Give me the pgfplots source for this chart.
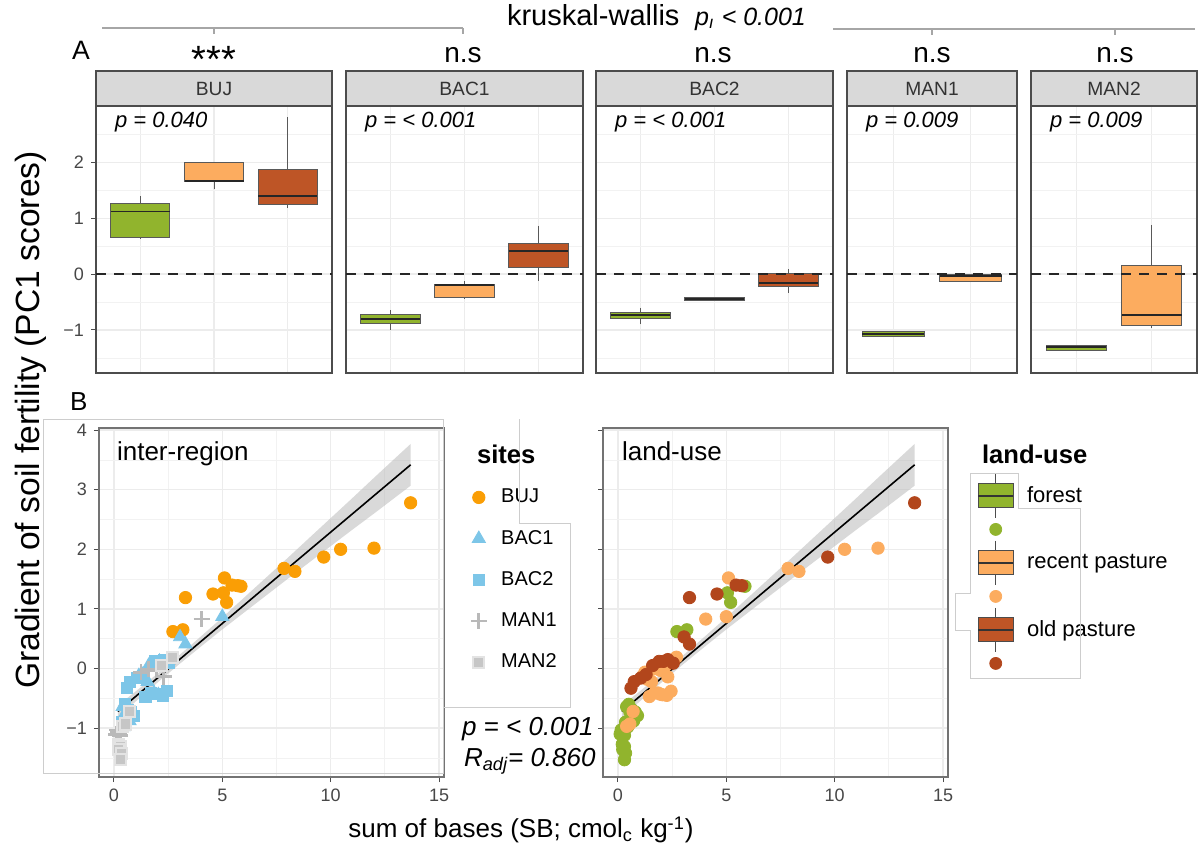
\documentclass[border=0pt]{standalone}
\usepackage{fontspec}
\setmainfont{Liberation Sans}
\usepackage{pgfplots}
\pgfplotsset{compat=1.18}
\usepgfplotslibrary{statistics}

\newcommand{\fs}[1]{\fontsize{#1}{#1}\selectfont}

\definecolor{forestc}{RGB}{145,180,45}
\definecolor{recentc}{RGB}{252,172,95}
\definecolor{oldc}{RGB}{190,85,38}
\definecolor{oldpt}{RGB}{178,70,28}
\definecolor{bujc}{RGB}{250,158,5}
\definecolor{bacc}{RGB}{125,198,232}
\definecolor{manc}{RGB}{185,185,185}
\definecolor{gridc}{RGB}{236,236,236}
\definecolor{stripc}{RGB}{217,217,217}
\definecolor{framec}{RGB}{205,205,205}

\pgfplotsset{
 panelbase/.style={scale only axis, anchor=north west,
   grid=both, major grid style={draw=gridc, line width=0.7pt},
   minor grid style={draw=gridc!70, line width=0.4pt},
   axis line style={black!70, line width=0.6pt},
   tick style={black!70, line width=0.5pt}, tick align=outside,
   minor tick length=0pt,
   tick label style={font=\fs{9}, text=black!72}},
 toppanel/.style={panelbase, height=133.5pt, ymin=-1.77, ymax=3.01, xmin=0.4,
   xtick={1,2,3}, xticklabels={}, ytick={-1,0,1,2},
   minor ytick={-1.5,-0.5,0.5,1.5,2.5},
   major tick length=0pt, yticklabels={}},
 bottompanel/.style={panelbase, width=172.5pt, height=174.5pt,
   xmin=-0.69, xmax=15.23, ymin=-1.82, ymax=4.035,
   xtick={0,5,10,15}, xticklabels={0,5,10,15}, ytick={-1,0,1,2,3,4},
   minor xtick={2.5,7.5,12.5}, minor ytick={-1.5,-0.5,0.5,1.5,2.5,3.5},
   major tick length=2.5pt, tick pos=left, axis line style={black!55}},
 ptkey/.style={legend image code/.code={\path (0pt,0pt) (12pt,0pt); \draw[##1] plot coordinates {(6pt,0pt)};}},
 lukey/.style={legend image code/.code={
   \draw[black!70, line width=0.5pt] (8.75pt,11pt) -- (8.75pt,-11pt);
   \draw[fill=#1, draw=black!70, line width=0.5pt] (0pt,-6pt) rectangle (17.5pt,6pt);
   \draw[black!80, line width=0.8pt] (0pt,0pt) -- (17.5pt,0pt);}},
 ludot/.style={legend image code/.code={\path (0pt,0pt) (17.5pt,0pt); \fill[#1] (8.75pt,0pt) circle (3pt);}},
}

% draw position, lower whisker, lower quartile, median, upper quartile, upper whisker, colour
\newcommand{\bx}[7]{\addplot[boxplot prepared={draw position=#1, lower whisker=#2,
   lower quartile=#3, median=#4, upper quartile=#5, upper whisker=#6,
   box extend=0.8, whisker extend=0, draw direction=y,
   every median/.style={draw=black!85, line width=0.9pt}},
   fill=#7, draw=black!65, line width=0.5pt, solid] coordinates {};}
\newcommand{\zeroline}[1]{\addplot[black!85, line width=1pt, dash pattern=on 5pt off 4pt] coordinates {(0.4,0) (#1,0)};}

\begin{document}
\begin{tikzpicture}

% ---------------- Panel A ----------------
\begin{axis}[toppanel, at={(48pt,-53pt)}, width=118pt, xmax=3.6,
  yticklabels={−1,0,1,2}, major tick length=2.5pt, ytick pos=left,
  xtick style={/pgfplots/major tick length=0pt}]
\bx{1}{0.63}{0.65}{1.12}{1.27}{1.40}{forestc}
\bx{2}{1.52}{1.65}{1.67}{2.00}{2.00}{recentc}
\bx{3}{1.19}{1.24}{1.40}{1.88}{2.81}{oldc}
\zeroline{3.6}
\end{axis}

\begin{axis}[toppanel, at={(173pt,-53pt)}, width=118.5pt, xmax=3.6]
\bx{1}{-1.00}{-0.88}{-0.81}{-0.73}{-0.64}{forestc}
\bx{2}{-0.44}{-0.41}{-0.20}{-0.18}{-0.12}{recentc}
\bx{3}{-0.12}{0.12}{0.41}{0.54}{0.87}{oldc}
\zeroline{3.6}
\end{axis}

\begin{axis}[toppanel, at={(298pt,-53pt)}, width=118.5pt, xmax=3.6]
\bx{1}{-0.90}{-0.79}{-0.73}{-0.69}{-0.60}{forestc}
\bx{2}{-0.47}{-0.47}{-0.44}{-0.41}{-0.41}{recentc}
\bx{3}{-0.33}{-0.22}{-0.16}{0.02}{0.09}{oldc}
\zeroline{3.6}
\end{axis}

\begin{axis}[toppanel, at={(423.5pt,-53pt)}, width=85pt, xmax=2.6, xtick={1,2}]
\bx{1}{-1.12}{-1.12}{-1.07}{-1.03}{-1.03}{forestc}
\bx{2}{-0.14}{-0.14}{-0.03}{-0.01}{-0.01}{recentc}
\zeroline{2.6}
\end{axis}

\begin{axis}[toppanel, at={(515.5pt,-53pt)}, width=83pt, xmax=2.6, xtick={1,2}]
\bx{1}{-1.37}{-1.37}{-1.31}{-1.27}{-1.27}{forestc}
\bx{2}{-0.96}{-0.92}{-0.73}{0.16}{0.88}{recentc}
\zeroline{2.6}
\end{axis}

% ---------------- Panel B : inter-region ----------------
\begin{axis}[bottompanel, at={(49.5pt,-214pt)}, yticklabels={−1,0,1,2,3,4},
  legend cell align=left,
  legend style={at={(1.0638,0.8613)}, anchor=north west, draw=none, fill=none,
    inner sep=0pt, row sep=0pt, font=\fs{10},
    nodes={inner sep=0pt, minimum height=20.6pt},
    /tikz/every odd column/.append style={column sep=5pt}}]
\addplot[ptkey, only marks, mark=*, mark size=3.1pt, mark options={fill=bujc, draw=bujc}] coordinates {
 (13.69,2.78) (12.0,2.02) (10.46,2.0) (9.68,1.87) (8.35,1.63) (7.85,1.68) (5.1,1.52)
 (5.45,1.40) (5.71,1.39) (5.86,1.38) (5.05,1.27) (5.2,1.11) (4.57,1.25) (3.3,1.19)
 (2.72,0.62) (3.18,0.65)};
\addlegendentry{BUJ}
\addplot[ptkey, only marks, mark=triangle*, mark size=3.8pt, mark options={fill=bacc, draw=bacc}] coordinates {
 (0.40,-0.64) (0.55,-0.73) (0.62,-0.81) (0.72,-0.88) (0.45,-0.98)
 (1.15,-0.12) (1.35,-0.18) (1.55,-0.22) (1.85,-0.41) (2.05,-0.44) (5.0,0.87)
 (3.05,0.53) (3.3,0.41) (2.1,0.12) (1.6,0.05) (1.3,-0.10)};
\addlegendentry{BAC1}
\addplot[ptkey, only marks, mark=square*, mark size=2.8pt, mark options={fill=bacc, draw=bacc}] coordinates {
 (0.5,-0.60) (0.65,-0.69) (0.8,-0.73) (0.9,-0.79) (0.35,-0.90)
 (1.7,-0.41) (1.95,-0.43) (2.25,-0.45) (1.45,-0.47) (2.45,-0.38)
 (2.55,0.09) (2.3,0.15) (1.9,0.12) (1.05,-0.16) (0.75,-0.22) (0.6,-0.33)};
\addlegendentry{BAC2}
\addplot[ptkey, only marks, mark=+, mark size=4pt, mark options={draw=manc, line width=1.4pt}] coordinates {
 (0.15,-1.03) (0.2,-1.06) (0.25,-1.08) (0.3,-1.12) (0.1,-1.10)
 (1.6,-0.01) (1.95,-0.03) (1.25,-0.06) (2.3,-0.14) (4.05,0.83)};
\addlegendentry{MAN1}
\addplot[ptkey, only marks, mark=square*, mark size=2.8pt, mark options={fill=gray!45, draw=gray!22, line width=1pt}] coordinates {
 (0.2,-1.27) (0.3,-1.31) (0.22,-1.36) (0.35,-1.42) (0.3,-1.53)
 (0.4,-0.97) (0.55,-0.93) (0.7,-0.72) (2.7,0.19) (2.2,0.05)};
\addlegendentry{MAN2}
\addplot[forget plot, fill=gray!55, fill opacity=0.55, draw=none] coordinates {
 (0.18,-0.620) (1,-0.384) (2,-0.088) (3,0.219) (4,0.535) (5,0.856) (6,1.188) (7,1.519)
 (8,1.850) (9,2.187) (10,2.523) (11,2.859) (12,3.200) (13,3.537) (13.69,3.768)
 (13.69,3.068) (13,2.877) (12,2.600) (11,2.329) (10,2.053) (9,1.777) (8,1.500)
 (7,1.219) (6,0.938) (5,0.656) (4,0.365) (3,0.069) (2,-0.238) (1,-0.554) (0.18,-0.820)} -- cycle;
\addplot[forget plot, black, line width=0.8pt] coordinates {(0.18,-0.72) (13.69,3.418)};
\end{axis}

% ---------------- Panel B : land-use ----------------
\begin{axis}[bottompanel, at={(301.5pt,-214pt)}, yticklabels={},
  legend cell align=left,
  legend style={at={(1.0841,0.8711)}, anchor=north west, draw=none, fill=none,
    inner sep=0pt, row sep=-2.75pt, font=\fs{11},
    nodes={inner sep=0pt, minimum height=16.5pt},
    /tikz/every odd column/.append style={column sep=6.5pt}}]
\addplot[forget plot, only marks, mark=*, mark size=3.1pt, mark options={fill=forestc, draw=forestc}] coordinates {
 (5.86,1.38) (5.05,1.27) (5.2,1.11) (2.72,0.62) (3.18,0.65)
 (0.40,-0.64) (0.55,-0.73) (0.62,-0.81) (0.72,-0.88) (0.45,-0.98)
 (0.5,-0.60) (0.65,-0.69) (0.8,-0.73) (0.9,-0.79) (0.35,-0.90)
 (0.15,-1.03) (0.2,-1.06) (0.25,-1.08) (0.3,-1.12) (0.1,-1.10)
 (0.2,-1.27) (0.3,-1.31) (0.22,-1.36) (0.35,-1.42) (0.3,-1.53)};
\addplot[forget plot, only marks, mark=*, mark size=3.1pt, mark options={fill=recentc, draw=recentc}] coordinates {
 (12.0,2.02) (10.46,2.0) (8.35,1.63) (7.85,1.68) (5.1,1.52)
 (1.15,-0.12) (1.35,-0.18) (1.55,-0.22) (1.85,-0.41) (2.05,-0.44) (5.0,0.87)
 (1.7,-0.41) (1.95,-0.43) (2.25,-0.45) (1.45,-0.47) (2.45,-0.38)
 (1.6,-0.01) (1.95,-0.03) (1.25,-0.06) (2.3,-0.14) (4.05,0.83)
 (0.4,-0.97) (0.55,-0.93) (0.7,-0.72) (2.7,0.19) (2.2,0.05)};
\addplot[forget plot, only marks, mark=*, mark size=3.1pt, mark options={fill=oldpt, draw=oldpt}] coordinates {
 (13.69,2.78) (9.68,1.87) (5.45,1.40) (5.71,1.39) (4.57,1.25) (3.3,1.19)
 (3.05,0.53) (3.3,0.41) (2.1,0.12) (1.6,0.05) (1.3,-0.10)
 (2.55,0.09) (2.3,0.15) (1.9,0.12) (1.05,-0.16) (0.75,-0.22) (0.6,-0.33)};
\addplot[forget plot, fill=gray!55, fill opacity=0.55, draw=none] coordinates {
 (0.18,-0.620) (1,-0.384) (2,-0.088) (3,0.219) (4,0.535) (5,0.856) (6,1.188) (7,1.519)
 (8,1.850) (9,2.187) (10,2.523) (11,2.859) (12,3.200) (13,3.537) (13.69,3.768)
 (13.69,3.068) (13,2.877) (12,2.600) (11,2.329) (10,2.053) (9,1.777) (8,1.500)
 (7,1.219) (6,0.938) (5,0.656) (4,0.365) (3,0.069) (2,-0.238) (1,-0.554) (0.18,-0.820)} -- cycle;
\addplot[forget plot, black, line width=0.8pt] coordinates {(0.18,-0.72) (13.69,3.418)};
\addlegendimage{lukey=forestc}\addlegendentry{forest}
\addlegendimage{ludot=forestc}\addlegendentry{}
\addlegendimage{lukey=recentc}\addlegendentry{recent pasture}
\addlegendimage{ludot=recentc}\addlegendentry{}
\addlegendimage{lukey=oldc}\addlegendentry{old pasture}
\addlegendimage{ludot=oldpt}\addlegendentry{}
\end{axis}

% ---------------- annotations (pixel units, y downwards) ----------------
\begin{scope}[x=0.5pt, y=-0.5pt]
% legend frames and panel frame (light)
\draw[framec, line width=0.5pt] (43,419) rectangle (443,773);
\draw[framec, line width=0.5pt] (519,419) -- (519,523) -- (570,523) -- (570,707) -- (443,707);
\draw[framec, line width=0.5pt] (970,473) -- (1018,473) -- (1018,508) -- (1080,508) -- (1080,678)
  -- (970,678) -- (970,630) -- (955,630) -- (955,593) -- (970,593) -- cycle;
% strips
\foreach \a/\b/\t in {96/332/BUJ, 346/583/BAC1, 596/833/BAC2, 847/1017/MAN1, 1031/1197/MAN2} {
  \draw[fill=stripc, draw=black!70, line width=0.6pt] (\a,71) rectangle (\b,106);
  \node[font=\fs{9.6}, text=black!80] at ({(\a+\b)/2},88.5) {\t};
}
% p values in panels
\node[anchor=west, font=\itshape\fs{11}] at (108,122) {p = 0.040};
\node[anchor=west, font=\itshape\fs{11}] at (358,122) {p = < 0.001};
\node[anchor=west, font=\itshape\fs{11}] at (608,122) {p = < 0.001};
\node[anchor=west, font=\itshape\fs{11}] at (859,122) {p = 0.009};
\node[anchor=west, font=\itshape\fs{11}] at (1043,122) {p = 0.009};
% brackets
\draw[black!35, line width=0.6pt] (102,28) -- (463,28) (214,28) -- (214,34) (463,28) -- (463,34);
\draw[black!35, line width=0.6pt] (833,29) -- (1195,29) (932,29) -- (932,35) (1115,29) -- (1115,35);
\node[anchor=base west, font=\fs{14.5}] at (500,25) {kruskal-wallis};
\node[anchor=base west, font=\itshape\fs{12.5}] at (688,25) {p\textsubscript{ı} < 0.001};
% significance labels
\node[anchor=base, font=\fs{19}] at (214,72) {***};
\node[anchor=base, font=\fs{14}] at (463,62) {n.s};
\node[anchor=base, font=\fs{14}] at (713,62) {n.s};
\node[anchor=base, font=\fs{14}] at (932,62) {n.s};
\node[anchor=base, font=\fs{14}] at (1115,62) {n.s};
% panel letters
\node[anchor=base west, font=\fs{13.3}] at (65,59) {A};
\node[anchor=base west, font=\fs{13}] at (63,410) {B};
% panel B texts
\node[anchor=base west, font=\fs{13}] at (110,460) {inter-region};
\node[anchor=base west, font=\fs{13}] at (615,460) {land-use};
\node[anchor=base west, font=\bfseries\fs{12.8}] at (470,463) {sites};
\node[anchor=base west, font=\bfseries\fs{12.8}] at (975,463) {land-use};
\node[anchor=base west, font=\itshape\fs{13}] at (455,735) {p = < 0.001};
\node[anchor=base west, font=\itshape\fs{13}] at (457,766) {R\textsubscript{adj}= 0.860};
% axis titles
\node[rotate=90, font=\fs{16.8}] at (31,420) {Gradient of soil fertility (PC1 scores)};
\node[font=\fs{13}] at (521,830) {sum of bases (SB; cmol\textsubscript{c} kg\textsuperscript{-1})};
\end{scope}

\pgfresetboundingbox
\path[use as bounding box] (0pt,0pt) rectangle (601pt,-424pt);
\end{tikzpicture}
\end{document}
